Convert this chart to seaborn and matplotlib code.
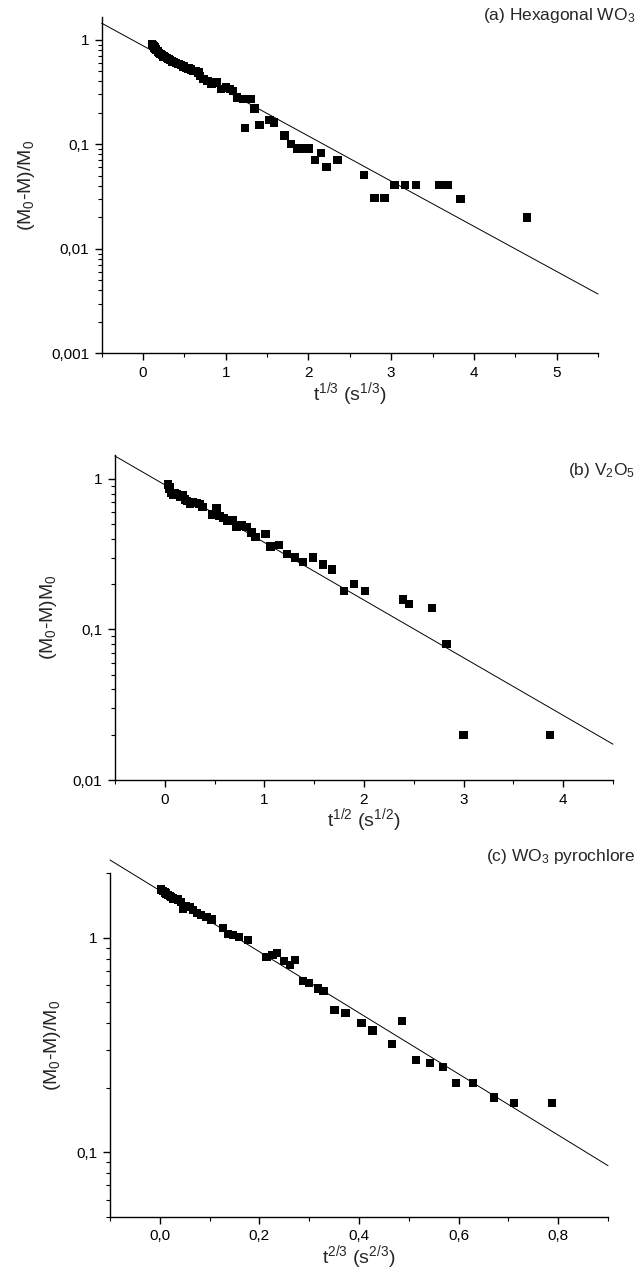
import pandas as pd
import seaborn as sns
import matplotlib.pyplot as plt
from matplotlib.ticker import MultipleLocator, FuncFormatter, LogLocator, NullFormatter

# (a) Hexagonal WO3 : x = t^(1/3)
a_x = [0.11, 0.12, 0.13, 0.14, 0.15, 0.16, 0.18, 0.19, 0.21, 0.23,
       0.25, 0.27, 0.29, 0.31, 0.33, 0.35, 0.37, 0.40, 0.43, 0.46,
       0.49, 0.52, 0.55, 0.58, 0.61, 0.64, 0.67, 0.69, 0.73, 0.78,
       0.83, 0.89, 0.94, 1.00, 1.05, 1.09, 1.14, 1.21, 1.30, 1.35,
       1.23, 1.41, 1.53, 1.58, 1.71, 1.79, 1.86, 1.93, 2.00, 2.08,
       2.15, 2.22, 2.35, 2.67, 2.80, 2.92, 3.04, 3.17, 3.30, 3.58,
       3.64, 3.69, 3.84, 4.64]
a_y = [0.91, 0.88, 0.86, 0.84, 0.82, 0.80, 0.77, 0.75, 0.73, 0.71,
       0.69, 0.68, 0.67, 0.65, 0.64, 0.62, 0.61, 0.60, 0.585, 0.57,
       0.556, 0.54, 0.53, 0.52, 0.505, 0.50, 0.486, 0.45, 0.42, 0.40,
       0.38, 0.39, 0.34, 0.35, 0.34, 0.325, 0.28, 0.27, 0.27, 0.22,
       0.143, 0.153, 0.17, 0.162, 0.121, 0.10, 0.091, 0.091, 0.091, 0.071,
       0.082, 0.061, 0.071, 0.051, 0.0305, 0.0305, 0.041, 0.041, 0.041, 0.041,
       0.041, 0.041, 0.030, 0.020]
a_fit_x = [-0.5, 5.5]
a_fit_y = [1.44, 0.0037]

# (b) V2O5 : x = t^(1/2)
b_x = [0.03, 0.04, 0.05, 0.06, 0.08, 0.10, 0.12, 0.15, 0.18, 0.20,
       0.22, 0.25, 0.28, 0.32, 0.35, 0.38, 0.48, 0.52, 0.55, 0.59,
       0.63, 0.68, 0.72, 0.77, 0.82, 0.87, 0.91, 1.01, 1.06, 1.15,
       1.23, 1.31, 1.39, 1.49, 1.59, 1.68, 1.80, 1.90, 2.01, 2.39,
       2.45, 2.68, 2.83, 3.00, 3.87]
b_y = [0.92, 0.86, 0.885, 0.81, 0.78, 0.80, 0.79, 0.76, 0.78, 0.73,
       0.715, 0.68, 0.70, 0.69, 0.68, 0.65, 0.58, 0.635, 0.57, 0.55,
       0.53, 0.53, 0.48, 0.49, 0.48, 0.44, 0.41, 0.43, 0.355, 0.365,
       0.317, 0.30, 0.28, 0.30, 0.27, 0.25, 0.18, 0.20, 0.18, 0.158,
       0.148, 0.139, 0.080, 0.020, 0.020]
b_fit_x = [-0.5, 4.5]
b_fit_y = [1.42, 0.0173]

# (c) WO3 pyrochlore : x = t^(2/3)
c_x = [0.003, 0.007, 0.010, 0.013, 0.016, 0.020, 0.023, 0.027, 0.030, 0.037,
       0.043, 0.047, 0.053, 0.060, 0.067, 0.075, 0.083, 0.094, 0.104, 0.127,
       0.137, 0.147, 0.159, 0.177, 0.214, 0.226, 0.235, 0.249, 0.261, 0.271,
       0.288, 0.300, 0.318, 0.329, 0.351, 0.373, 0.405, 0.427, 0.466, 0.486,
       0.514, 0.542, 0.569, 0.595, 0.629, 0.671, 0.711, 0.788]
c_y = [1.68, 1.66, 1.63, 1.61, 1.59, 1.57, 1.55, 1.53, 1.52, 1.51,
       1.47, 1.37, 1.40, 1.39, 1.35, 1.31, 1.28, 1.25, 1.22, 1.11,
       1.04, 1.03, 1.01, 0.98, 0.816, 0.83, 0.85, 0.78, 0.75, 0.79,
       0.63, 0.615, 0.58, 0.565, 0.46, 0.445, 0.40, 0.37, 0.32, 0.41,
       0.27, 0.26, 0.25, 0.21, 0.21, 0.18, 0.17, 0.17]
c_fit_x = [-0.1, 0.9]
c_fit_y = [2.31, 0.0865]

titles = ['(a) Hexagonal WO$_3$', '(b) V$_2$O$_5$', '(c) WO$_3$ pyrochlore']
xlabels = ['t$^{1/3}$ (s$^{1/3}$)', 't$^{1/2}$ (s$^{1/2}$)', 't$^{2/3}$ (s$^{2/3}$)']
ylabels = ['(M$_0$-M)/M$_0$', '(M$_0$-M)M$_0$', '(M$_0$-M)/M$_0$']

sns.set_theme(style="ticks")
plt.rcParams['font.family'] = ['Liberation Sans', 'DejaVu Sans']
plt.rcParams['mathtext.fontset'] = 'custom'
plt.rcParams['mathtext.rm'] = 'Liberation Sans'
plt.rcParams['mathtext.it'] = 'Liberation Sans'

fig = plt.figure(figsize=(6.43, 12.76), dpi=100)

panels = [
    dict(x=a_x, y=a_y, fx=a_fit_x, fy=a_fit_y, xlim=(-0.5, 5.5), ylim=(0.001, 1.65),
         major=1, minor=0.5, fmt='{:g}', rect=[0.158, 0.723, 0.772, 0.2637], title_y=0.995),
    dict(x=b_x, y=b_y, fx=b_fit_x, fy=b_fit_y, xlim=(-0.5, 4.5), ylim=(0.01, 1.45),
         major=1, minor=0.5, fmt='{:g}', rect=[0.1788, 0.3887, 0.7745, 0.255], title_y=0.639),
    dict(x=c_x, y=c_y, fx=c_fit_x, fy=c_fit_y, xlim=(-0.1, 0.9), ylim=(0.05, 2.0),
         major=0.2, minor=0.1, fmt='{:.1f}', rect=[0.1711, 0.0465, 0.7745, 0.269], title_y=0.336),
]

for i, p in enumerate(panels):
    ax = fig.add_axes(p['rect'])
    df = pd.DataFrame({'x': p['x'], 'y': p['y']})
    fit = pd.DataFrame({'x': p['fx'], 'y': p['fy']})
    sns.lineplot(data=fit, x='x', y='y', ax=ax, color='black', linewidth=0.7)
    for ln in ax.lines:
        ln.set_clip_on(False)
    sns.scatterplot(data=df, x='x', y='y', ax=ax, marker='s', s=36,
                    color='black', edgecolor='none', linewidth=0, zorder=3)
    ax.set_yscale('log')
    ax.set_xlim(*p['xlim'])
    ax.set_ylim(*p['ylim'])
    ax.xaxis.set_major_locator(MultipleLocator(p['major']))
    ax.xaxis.set_minor_locator(MultipleLocator(p['minor']))
    fmt = p['fmt']
    ax.xaxis.set_major_formatter(FuncFormatter(lambda v, pos, f=fmt: f.format(v).replace('.', ',')))
    ax.yaxis.set_major_locator(LogLocator(base=10))
    ax.yaxis.set_minor_locator(LogLocator(base=10, subs=range(2, 10)))
    ax.yaxis.set_major_formatter(FuncFormatter(lambda v, pos: '{:g}'.format(v).replace('.', ',')))
    ax.yaxis.set_minor_formatter(NullFormatter())
    sns.despine(ax=ax)
    for s in ['left', 'bottom']:
        ax.spines[s].set_linewidth(1.0)
        ax.spines[s].set_color('black')
    ax.tick_params(which='major', direction='out', length=5, width=1.0, color='black',
                   labelsize=11, labelcolor='black', pad=4)
    ax.tick_params(which='minor', direction='out', length=3, width=0.8, color='black')
    ax.set_xlabel(xlabels[i], fontsize=14, labelpad=0)
    ax.set_ylabel(ylabels[i], fontsize=14, labelpad=10)
    fig.text(0.988, p['title_y'], titles[i], ha='right', va='top', fontsize=12.5)

plt.savefig('out.png', dpi=100)
